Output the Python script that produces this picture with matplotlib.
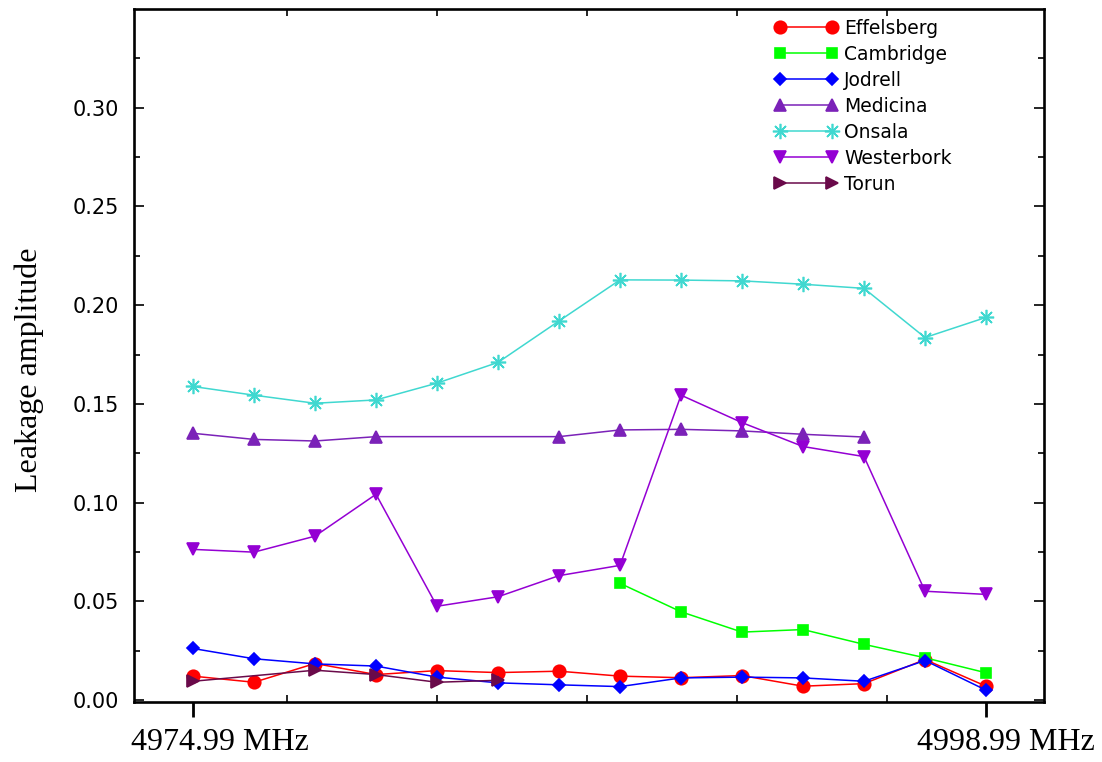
import matplotlib

matplotlib.use("Agg")
import matplotlib.pyplot as plt
import matplotlib.transforms as mtransforms

# channel index across the band (14 channels)
chan = list(range(14))
band_edges = ["4974.99 MHz", "4998.99 MHz"]

effelsberg = [0.0121, 0.0090, 0.0185, 0.0129, 0.0149, 0.0139, 0.0146,
              0.0121, 0.0113, 0.0124, 0.0070, 0.0083, 0.0205, 0.0070]
cambridge_ch = [7, 8, 9, 10, 11, 12, 13]
cambridge = [0.0591, 0.0447, 0.0344, 0.0357, 0.0282, 0.0214, 0.0138]
jodrell = [0.0261, 0.0209, 0.0183, 0.0172, 0.0116, 0.0087, 0.0077,
           0.0068, 0.0112, 0.0116, 0.0112, 0.0095, 0.0200, 0.0050]
medicina_ch = [0, 1, 2, 3, 6, 7, 8, 9, 10, 11]
medicina = [0.1351, 0.1320, 0.1312, 0.1334, 0.1334, 0.1368, 0.1371,
            0.1363, 0.1346, 0.1332]
onsala = [0.1588, 0.1544, 0.1503, 0.1520, 0.1605, 0.1710, 0.1920,
          0.2128, 0.2127, 0.2123, 0.2106, 0.2085, 0.1836, 0.1938]
westerbork = [0.0763, 0.0749, 0.0830, 0.1042, 0.0475, 0.0523, 0.0630,
              0.0682, 0.1544, 0.1405, 0.1284, 0.1233, 0.0551, 0.0535]
torun_ch = [0, 2, 3, 4, 5]
torun = [0.0095, 0.0151, 0.0129, 0.0090, 0.0100]

series = [
    ("Effelsberg", chan, effelsberg, "#ff0000", "o", 9),
    ("Cambridge", cambridge_ch, cambridge, "#00ff00", "s", 7.5),
    ("Jodrell", chan, jodrell, "#0000ff", "D", 6.5),
    ("Medicina", medicina_ch, medicina, "#7b22b8", "^", 9),
    ("Onsala", chan, onsala, "#40d8d0", (8, 2, 0), 11),
    ("Westerbork", chan, westerbork, "#9400d3", "v", 9),
    ("Torun", torun_ch, torun, "#6a0a4a", ">", 9),
]

fig = plt.figure(figsize=(11.02, 7.62), dpi=100)
ax = fig.add_axes([134 / 1102, 1 - 702 / 762, 910 / 1102, 693 / 762])

for name, xs, ys, color, mk, ms in series:
    ax.plot(xs, ys, color=color, lw=1.1, marker=mk, ms=ms, mfc=color,
            mec=color, mew=1.2, label=name)

ax.set_xlim(-0.967, 13.95)
ax.set_ylim(-0.001, 0.35)

ax.set_xticks([0, 13], band_edges)
ax.set_xticks([1.54, 4.0, 6.46, 8.92, 11.38], minor=True)
ax.set_yticks([0.0, 0.05, 0.10, 0.15, 0.20, 0.25, 0.30],
              ["0.00", "0.05", "0.10", "0.15", "0.20", "0.25", "0.30"])
ax.set_yticks([0.025, 0.075, 0.125, 0.175, 0.225, 0.275, 0.325], minor=True)

ax.tick_params(axis="x", which="major", direction="out", length=11, width=2,
               pad=8, top=False, labelsize=23)
ax.tick_params(axis="x", which="minor", direction="in", length=5, width=1.2,
               top=True)
ax.tick_params(axis="y", which="major", direction="in", length=7, width=1.2,
               right=True, pad=11, labelsize=15)
ax.tick_params(axis="y", which="minor", direction="in", length=4.5, width=1.2,
               right=True)
# the band-edge labels sit a little right of their ticks in the original
for lab, dx in zip(ax.get_xticklabels(), [0.27, 0.20]):
    lab.set_fontfamily("Liberation Serif")
    lab.set_transform(lab.get_transform() + mtransforms.ScaledTranslation(
        dx, 0, fig.dpi_scale_trans))
for lab in ax.get_yticklabels():
    lab.set_fontfamily("DejaVu Sans")

for sp in ax.spines.values():
    sp.set_linewidth(1.9)

ax.set_ylabel("Leakage amplitude", fontsize=23, family="Liberation Serif")
ax.yaxis.set_label_coords(-0.099, 0.479)

ax.legend(loc="upper left", bbox_to_anchor=(774 / 1102, 1 - 19 / 762),
          bbox_transform=fig.transFigure, frameon=False, numpoints=2,
          prop={"family": "DejaVu Sans", "size": 13.5}, handlelength=3.4,
          handletextpad=0.35, labelspacing=0.37, borderpad=0, borderaxespad=0)

fig.savefig("out.png", dpi=100)
